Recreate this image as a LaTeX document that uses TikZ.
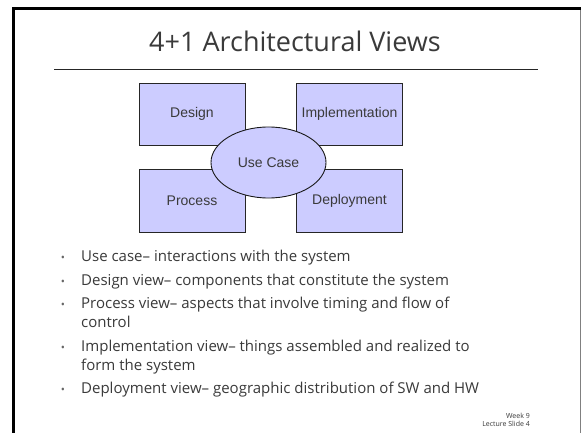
\documentclass[tikz,border=0pt]{standalone}
\usepackage{fontspec}
\setmainfont{Open Sans}
\newfontfamily\arialfont{Liberation Sans}
\usetikzlibrary{shapes.geometric}
\definecolor{boxfill}{HTML}{CCCCFF}
\definecolor{txtgray}{HTML}{3A3A3A}
\definecolor{bulgray}{HTML}{666666}
\begin{document}
\begin{tikzpicture}[x=1pt,y=-1pt,
  viewbox/.style={draw=black!85, fill=boxfill, line width=0.9pt, minimum width=106pt, minimum height=62pt, inner sep=0pt, font=\arialfont\fontsize{14}{16}\selectfont, text=txtgray},
  usecase/.style={ellipse, draw=black!90, fill=boxfill, line width=0.9pt, minimum width=115pt, minimum height=71pt, inner sep=0pt, font=\arialfont\fontsize{14}{16}\selectfont, text=txtgray},
  bullettext/.style={anchor=base west, inner sep=0pt, font=\fontsize{15}{18}\selectfont, text=txtgray},
  bulletdot/.style={anchor=base, inner sep=0pt, font=\fontsize{11}{13}\selectfont, text=bulgray},
  footer/.style={anchor=base east, inner sep=0pt, font=\fontsize{7}{8}\selectfont, text=txtgray}]
\useasboundingbox (0,0) rectangle (581,433);
\fill[white] (0,0) rectangle (581,433);
% frame
\coordinate (ftl) at (13,9);
\coordinate (ftr) at (581,9);
\coordinate (fbl) at (13,433);
\coordinate (rtop) at (580,9);
\coordinate (rbot) at (580,433);
\draw[black!50, line width=0.8pt] (rtop) -- (rbot);
\draw[black, line width=3pt] (ftr) -- (ftl) -- (fbl);
% title
\node[anchor=base, inner sep=0pt, font=\fontsize{27}{32}\selectfont, text=txtgray] (title) at (295,52) {4+1 Architectural Views};
\coordinate (rulel) at (54,69);
\coordinate (ruler) at (538,69);
\draw[black!85, line width=0.8pt] (rulel) -- (ruler);
% boxes
\node[viewbox] (design) at (192,114) {Design};
\node[viewbox] (impl) at (349.5,114) {Implementation};
\node[viewbox, minimum height=63pt] (process) at (192,200.5) {Process};
\node[viewbox, minimum height=63pt] (deploy) at (349.5,200.5) {Deployment};
\node[usecase] (uc) at (268.5,162.5) {Use Case};
% bullets
\foreach \y/\n in {261/b1,285/b2,308/b3,351/b4,393/b5}{
  \node[bulletdot] (d\n) at (63,\y) {•};
}
\node[bullettext] (b1) at (81,261) {Use case– interactions with the system};
\node[bullettext] (b2) at (81,285) {Design view– components that constitute the system};
\node[bullettext] (b3) at (81,308) {Process view– aspects that involve timing and flow of};
\node[bullettext] (b3b) at (81,327) {control};
\node[bullettext] (b4) at (81,351) {Implementation view– things assembled and realized to};
\node[bullettext] (b4b) at (81,370) {form the system};
\node[bullettext] (b5) at (81,393) {Deployment view– geographic distribution of SW and HW};
% footer
\node[footer] (week) at (530,418) {Week 9};
\node[footer] (lect) at (530,426) {Lecture Slide 4};
\end{tikzpicture}
\end{document}
